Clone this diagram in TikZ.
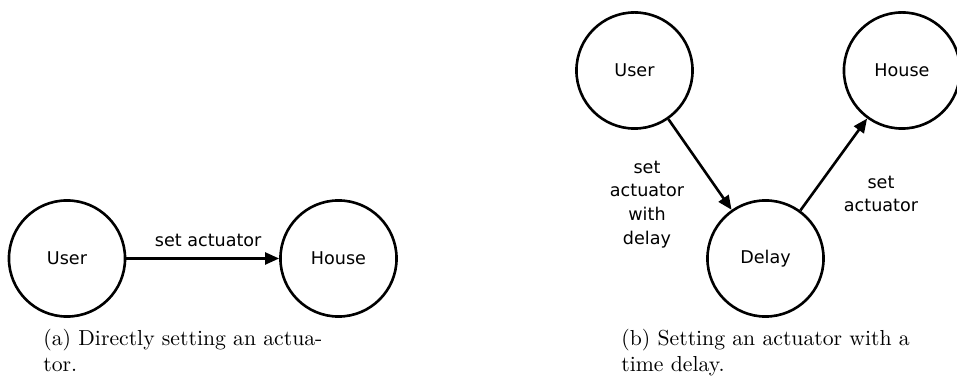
\documentclass[tikz,border=0pt]{standalone}
\usepackage{fontspec}
\usepackage{tikz}
\usetikzlibrary{arrows.meta}
\newfontfamily\diagfont{DejaVu Sans}

\tikzset{
	actor/.style={draw, circle, line width=1.2pt, minimum size=53.5pt, inner sep=0pt,
		font=\diagfont\fontsize{8.1}{11}\selectfont},
	msg/.style={line width=1.2pt, -{Triangle[length=6.5pt,width=5.5pt]}},
	msglabel/.style={align=center, inner sep=0pt, font=\diagfont\fontsize{8.1}{11}\selectfont},
	subcap/.style={anchor=north west, align=left, inner sep=0pt, font=\fontsize{10}{12}\selectfont}
}

\begin{document}
\begin{tikzpicture}[x=0.4608pt, y=-0.4608pt]
	\useasboundingbox (0,0) rectangle (957,376);

	% (a) direct
	\node [actor] (userA) at (67,258.5) {User};
	\node [actor] (houseA) at (338.5,258.5) {House};
	\draw [msg] (userA) -- (houseA) node [msglabel, midway, above=5pt, xshift=2.5pt] (setA) {set actuator};
	\node [subcap] (capA) at (43,329) {(a) Directly setting an actua-\\tor.};

	% (b) with delay
	\node [actor] (userB) at (634.5,70.5) {User};
	\node [actor] (delayB) at (765.5,258.5) {Delay};
	\node [actor] (houseB) at (902,70.5) {House};
	\draw [msg] (userB) -- (delayB);
	\draw [msg] (delayB) -- (houseB);
	\node [msglabel] (setDelay) at (647,204.5) {set\\actuator\\with\\delay};
	\node [msglabel] (setB) at (881,194) {set\\actuator};
	\node [subcap] (capB) at (621,329) {(b) Setting an actuator with a\\time delay.};
\end{tikzpicture}
\end{document}
